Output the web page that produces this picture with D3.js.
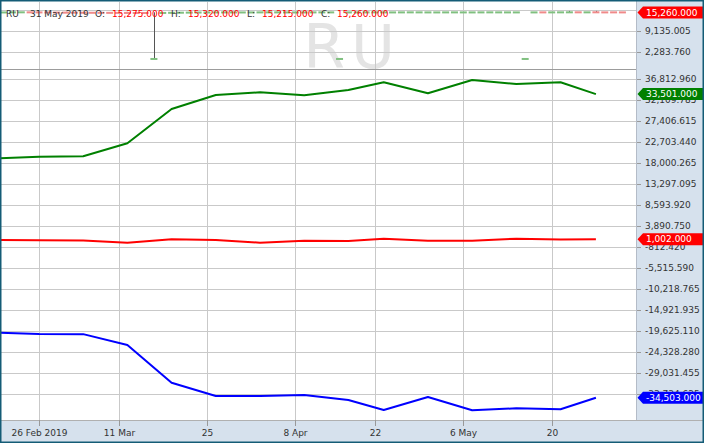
<!DOCTYPE html>
<html><head><meta charset="utf-8">
<script src="https://cdn.jsdelivr.net/npm/d3@7"></script>
<style>html,body{margin:0;padding:0;background:#fff;} svg{display:block;} text{font-family:"DejaVu Sans",sans-serif;}</style>
</head><body><svg id="c" width="704" height="443"></svg>
<script>
// ---------- DATA ----------
const symbol = "RU";
const holidays = ["2019-04-19", "2019-05-27"];
const priceStart = "2019-02-19", priceEnd = "2019-05-31";
const priceOpen = [15180,15230,15260,15285,15300,15270,15240,15215,15190,15175,15160,15145,15130,15120,15105,15095,15080,15070,0,
  15060,15100,15140,15170,15200,15210,15230,15240,15235,15220,15225,15240,15250,15245,15230,15220,15225,15240,15250,15245,0,
  15230,15235,15245,15250,15240,15235,15245,15255,15250,15240,15235,15245,15250,15240,15235,15245,15255,15250,15245,15240,0,
  15240,15290,15250,15260,15270,15310,15265,15310,15285,15290,15275];
const priceHigh = [15250,15290,15310,15330,15340,15300,15280,15250,15230,15210,15200,15180,15170,15150,15140,15130,15120,15110,15300,
  15140,15180,15210,15240,15270,15290,15300,15310,15300,15290,15300,15320,15330,15310,15300,15290,15300,15310,15320,15320,0,
  15300,15310,15320,15330,15310,15300,15320,15330,15320,15300,15300,15310,15320,15310,15300,15310,15330,15320,15310,15300,0,
  15310,15320,15320,15330,15750,15340,15330,15750,15320,15320,15320];
const priceLow = [15150,15200,15220,15250,15240,15210,15190,15170,15150,15140,15120,15110,15100,15080,15070,15060,15050,15040,0,
  15030,15080,15110,15140,15170,15190,15200,15210,15210,15190,15200,15220,15230,15220,15200,15190,15200,15210,15230,15220,0,
  15200,15210,15220,15230,15210,15210,15220,15230,15220,15210,15200,15220,15230,15210,15210,15220,15230,15220,15220,15210,0,
  15210,15230,15230,15240,15250,15240,15240,15260,15230,15240,15215];
const priceClose = [15230,15260,15285,15300,15270,15240,15215,15190,15175,15160,15145,15130,15120,15105,15095,15080,15070,15060,0,
  15110,15150,15185,15210,15240,15255,15270,15280,15275,15265,15270,15290,15300,15285,15275,15260,15270,15285,15295,15290,0,
  15275,15280,15290,15300,15285,15280,15290,15300,15295,15280,15275,15290,15295,15285,15280,15290,15300,15295,15285,15280,0,
  15285,15255,15290,15300,15310,15270,15300,15280,15255,15265,15260];

const weekDates = ["2019-02-19","2019-02-26","2019-03-05","2019-03-12","2019-03-19","2019-03-26","2019-04-02","2019-04-09",
  "2019-04-16","2019-04-23","2019-04-30","2019-05-07","2019-05-14","2019-05-21","2019-05-28"];
const longPos  = [19075,19478,19568,22480,30161,33297,33902,33230,34417,36141,33678,36656,35760,36141,33501];
const netPos   = [819,752,692,213,976,818,213,661,595,1110,661,662,1110,953,1002];
const shortPos = [-19894,-20230,-20260,-22693,-31137,-34115,-34115,-33891,-35012,-37251,-34339,-37318,-36870,-37094,-34503];

const xTickDates  = ["2019-02-26","2019-03-11","2019-03-25","2019-04-08","2019-04-22","2019-05-06","2019-05-20"];
const xTickLabels = ["26 Feb 2019","11 Mar","25","8 Apr","22","6 May","20"];
const yTicksTop = [9135.005, 2283.760];
const yTicksBottom = [36812.960,32109.785,27406.615,22703.440,18000.265,13297.095,8593.920,3890.750,-812.420,-5515.590,
  -10218.765,-14921.935,-19625.110,-24328.280,-29031.455,-33734.625];

// ---------- SETUP ----------
const W = 704, H = 443, PR = 636, TOP0 = 2, TOP1 = 69, BOT1 = 420;
const svg = d3.select("#c");
const parse = d3.utcParse("%Y-%m-%d"), fmtD = d3.utcFormat("%Y-%m-%d");
const tradingDays = d3.utcDay.range(parse(priceStart), d3.utcDay.offset(parse(priceEnd), 1))
  .filter(d => d.getUTCDay() !== 0 && d.getUTCDay() !== 6 && !holidays.includes(fmtD(d))).map(fmtD);
const idx = new Map(tradingDays.map((d, i) => [d, i]));
const x = d3.scaleLinear().domain([0.59, 0.59 + PR / 8.84]).range([0, PR]);
const yTop = d3.scaleLinear().domain([2283.76, 9135.005]).range([52.0, 31.1]);
const yBot = d3.scaleLinear().domain([-33734.625, 36812.96]).range([394.3, 79.3]);
const loc = d3.formatLocale({ decimal: ".", thousands: ",", grouping: [3], currency: ["", ""], minus: "-" });
const fmtN = loc.format(",.3f");

svg.append("rect").attr("width", W).attr("height", H).attr("fill", "#fff");
// axis panels
svg.append("rect").attr("x", PR).attr("y", 0).attr("width", W - PR).attr("height", H).attr("fill", "#d6e1ed");
svg.append("rect").attr("x", 0).attr("y", BOT1).attr("width", W).attr("height", H - BOT1).attr("fill", "#d6e1ed");

const defs = svg.append("defs");
defs.append("clipPath").attr("id", "cTop").append("rect").attr("x", 0).attr("y", TOP0).attr("width", PR).attr("height", TOP1 - TOP0);
defs.append("clipPath").attr("id", "cBot").append("rect").attr("x", 0).attr("y", TOP1).attr("width", PR).attr("height", BOT1 - TOP1);

// watermark
svg.append("text").attr("x", 352).attr("y", 68).attr("text-anchor", "middle")
  .attr("font-size", 60).attr("letter-spacing", 6).attr("fill", "#e4e4e4").text(symbol);

// grid
const grid = svg.append("g").attr("stroke", "#c9c9c9").attr("stroke-width", 1).attr("shape-rendering", "crispEdges");
xTickDates.forEach(d => {
  const xx = Math.round(x(idx.get(d))) + 0.5;
  grid.append("line").attr("x1", xx).attr("x2", xx).attr("y1", TOP0).attr("y2", BOT1);
});
[15986.25, ...yTicksTop].forEach(v => {
  const yy = Math.round(yTop(v)) + 0.5;
  grid.append("line").attr("x1", 0).attr("x2", PR).attr("y1", yy).attr("y2", yy);
});
yTicksBottom.forEach(v => {
  const yy = Math.round(yBot(v)) + 0.5;
  grid.append("line").attr("x1", 0).attr("x2", PR).attr("y1", yy).attr("y2", yy);
});
svg.append("line").attr("x1", 0).attr("x2", PR).attr("y1", TOP1 + 0.5).attr("y2", TOP1 + 0.5).attr("stroke", "#9c9c9c");
svg.append("line").attr("x1", 0).attr("x2", W).attr("y1", BOT1 + 0.5).attr("y2", BOT1 + 0.5).attr("stroke", "#b0b0b0");
svg.append("line").attr("x1", PR + 0.5).attr("x2", PR + 0.5).attr("y1", 0).attr("y2", BOT1).attr("stroke", "#b4bcc8");

// candles
const candles = tradingDays.map((d, i) => ({ i, o: priceOpen[i], h: priceHigh[i], l: priceLow[i], c: priceClose[i] }));
const gc = svg.append("g").attr("clip-path", "url(#cTop)");
gc.selectAll("line").data(candles).join("line")
  .attr("x1", d => Math.round(x(d.i)) + 0.5).attr("x2", d => Math.round(x(d.i)) + 0.5)
  .attr("y1", d => yTop(d.h)).attr("y2", d => yTop(d.l)).attr("stroke", "#555");
gc.selectAll("rect").data(candles).join("rect")
  .attr("x", d => x(d.i) - 3.5).attr("width", 7)
  .attr("y", d => { const a = yTop(Math.max(d.o, d.c)), b = yTop(Math.min(d.o, d.c)); return b - a < 2 ? (a + b) / 2 - 1 : a; })
  .attr("height", d => Math.max(2, yTop(Math.min(d.o, d.c)) - yTop(Math.max(d.o, d.c))))
  .attr("fill", d => d.c >= d.o ? "#80c080" : "#f08a8a");

// lines
const gl = svg.append("g").attr("clip-path", "url(#cBot)");
const line = d3.line().x(d => x(idx.get(d[0]))).y(d => yBot(d[1]));
[[longPos, "#008000"], [netPos, "#ff0000"], [shortPos, "#0000ff"]].forEach(([vals, col]) => {
  gl.append("path").datum(weekDates.map((d, i) => [d, vals[i]])).attr("d", line)
    .attr("fill", "none").attr("stroke", col).attr("stroke-width", 2).attr("stroke-linejoin", "round");
});

// right axis ticks & labels
const ax = svg.append("g").attr("font-size", 9).attr("fill", "#333");
function ytick(yy, v) {
  ax.append("line").attr("x1", PR + 1).attr("x2", PR + 5).attr("y1", Math.round(yy) + 0.5).attr("y2", Math.round(yy) + 0.5).attr("stroke", "#999");
  ax.append("text").attr("x", 645).attr("y", yy).attr("dy", "0.35em").text(fmtN(v));
}
yTicksTop.forEach(v => ytick(yTop(v), v));
yTicksBottom.forEach(v => ytick(yBot(v), v));

// x axis
const xa = svg.append("g").attr("font-size", 9).attr("fill", "#333");
xTickDates.forEach((d, k) => {
  const xx = Math.round(x(idx.get(d))) + 0.5;
  xa.append("line").attr("x1", xx).attr("x2", xx).attr("y1", BOT1).attr("y2", BOT1 + 6).attr("stroke", "#999");
  xa.append("text").attr("x", xx).attr("y", 436).attr("text-anchor", "middle").text(xTickLabels[k]);
});

// tags
function tag(yy, v, col) {
  const g = svg.append("g");
  g.append("path").attr("d", `M637.5,${yy} L643,${yy - 6} L${W},${yy - 6} L${W},${yy + 6} L643,${yy + 6} Z`).attr("fill", col);
  g.append("text").attr("x", 646).attr("y", yy).attr("dy", "0.35em").attr("font-size", 9).attr("fill", "#fff").text(fmtN(v));
}
const last = candles[candles.length - 1];
tag(yTop(last.c), last.c, last.c >= last.o ? "#008000" : "#ff0000");
tag(yBot(longPos[longPos.length - 1]), longPos[longPos.length - 1], "#008000");
tag(yBot(netPos[netPos.length - 1]), netPos[netPos.length - 1], "#ff0000");
tag(yBot(shortPos[shortPos.length - 1]), shortPos[shortPos.length - 1], "#0000ff");

// header
const hd = svg.append("text").attr("y", 17).attr("font-size", 9).attr("fill", "#333");
const lastDate = d3.utcFormat("%-d %b %Y")(parse(tradingDays[tradingDays.length - 1]));
const parts = [[6, symbol, "#333"], [30, lastDate, "#333"], [95, "O:", "#333"], [112, fmtN(last.o), "#f00"],
  [171, "H:", "#333"], [188, fmtN(last.h), "#f00"], [247, "L:", "#333"], [262, fmtN(last.l), "#f00"],
  [321, "C:", "#333"], [337, fmtN(last.c), "#f00"]];
parts.forEach(([px, t, col]) => hd.append("tspan").attr("x", px).attr("fill", col).text(t));

// frame
svg.append("rect").attr("x", 0.75).attr("y", 0.75).attr("width", W - 1.5).attr("height", H - 1.5)
  .attr("fill", "none").attr("stroke", "#145c76").attr("stroke-width", 1.5);
</script></body></html>
